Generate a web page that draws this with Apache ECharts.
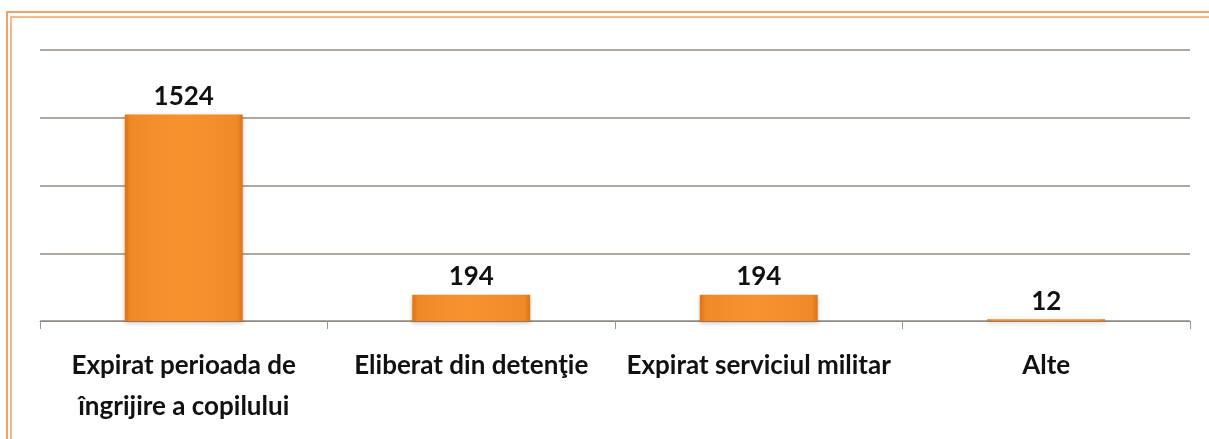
<!DOCTYPE html>
<html>
<head>
<meta charset="utf-8">
<script src="https://cdn.jsdelivr.net/npm/echarts@6/dist/echarts.min.js"></script>
<style>html,body{margin:0;padding:0;background:#fff;}#c{width:1209px;height:439px;}</style>
</head>
<body>
<div id="c"></div>
<script>
const categories = ["Expirat perioada de\nîngrijire a copilului", "Eliberat din detenţie", "Expirat serviciul militar", "Alte"];
const values = [1524, 194, 194, 12];
const yTicks = { min: 0, max: 2000, interval: 500 };

const chart = echarts.init(document.getElementById('c'));
const barColor = new echarts.graphic.LinearGradient(0, 0, 1, 0, [
  { offset: 0, color: '#d87418' },
  { offset: 0.05, color: '#f08a28' },
  { offset: 0.5, color: '#f6932f' },
  { offset: 0.95, color: '#f08a28' },
  { offset: 1, color: '#d87418' }
]);
chart.setOption({
  animation: false,
  backgroundColor: '#ffffff',
  grid: { left: 40, right: 19, top: 50, bottom: 118, containLabel: false },
  xAxis: {
    type: 'category',
    data: categories,
    axisLine: { show: true, lineStyle: { color: '#8f8880', width: 1 } },
    axisTick: { show: true, length: 8, lineStyle: { color: '#9a9a9a' } },
    axisLabel: { color: '#111', fontFamily: 'Lato', fontWeight: 'bold', fontSize: 26, margin: 24, lineHeight: 41, interval: 0 }
  },
  yAxis: {
    type: 'value',
    min: yTicks.min, max: yTicks.max, interval: yTicks.interval,
    axisLabel: { show: false },
    axisLine: { show: false },
    axisTick: { show: false },
    splitLine: { show: true, lineStyle: { color: '#958b80', width: 1.5 } }
  },
  series: [{
    type: 'bar',
    data: values,
    barWidth: '41%',
    itemStyle: {
      color: barColor,
      shadowColor: 'rgba(120,60,0,0.35)',
      shadowBlur: 4,
      shadowOffsetY: 2
    },
    label: { show: true, position: 'top', distance: 5, color: '#111', fontFamily: 'Lato', fontWeight: 'bold', fontSize: 26 }
  }],
  graphic: [
    { type: 'polyline', shape: { points: [[7, 439], [7, 12], [1209, 12]] }, style: { stroke: '#f2a264', lineWidth: 2, fill: null } },
    { type: 'polyline', shape: { points: [[11, 439], [11, 17], [1209, 17]] }, style: { stroke: '#f2a264', lineWidth: 1.5, fill: null } }
  ]
});
</script>
</body>
</html>
